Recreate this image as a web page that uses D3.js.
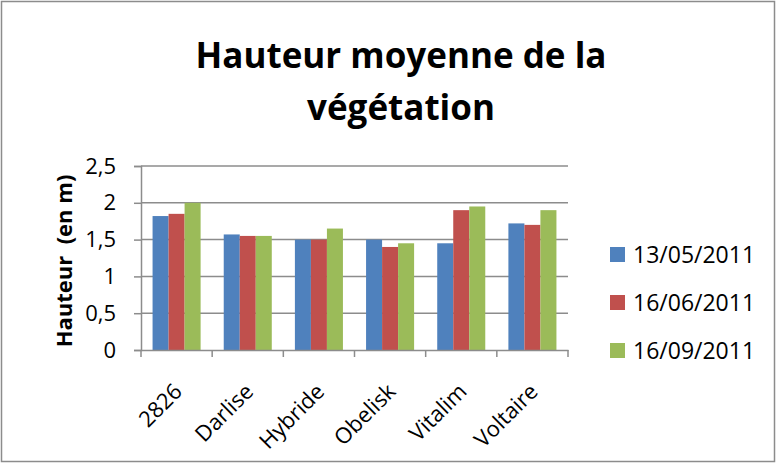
<!DOCTYPE html>
<html>
<head>
<meta charset="utf-8">
<script src="https://cdn.jsdelivr.net/npm/d3@7"></script>
<style>
body{margin:0;background:#fff;}
text{font-family:"Open Sans","Noto Sans",sans-serif;}
</style>
</head>
<body>
<div id="chart"></div>
<script>
// data
var varietes=["2826","Darlise","Hybride","Obelisk","Vitalim","Voltaire"];
var dates=["13/05/2011","16/06/2011","16/09/2011"];
var mai=[1.82,1.57,1.5,1.5,1.45,1.72];
var juin=[1.85,1.55,1.5,1.4,1.9,1.7];
var sept=[2.0,1.55,1.65,1.45,1.95,1.9];
var yTicks=[0,0.5,1,1.5,2,2.5];
var couleurs=["#4f81bd","#c0504d","#9bbb59"];

var svgWidth=776, svgHeight=463;
var margin={top:166,right:208,bottom:113,left:141};
var width=svgWidth-margin.left-margin.right;
var height=svgHeight-margin.top-margin.bottom;

var svg=d3.select("#chart").append("svg")
    .attr("width",svgWidth)
    .attr("height",svgHeight);

// outer border of the chart
svg.append("rect")
    .attr("x",1.5).attr("y",1.5)
    .attr("width",svgWidth-3).attr("height",svgHeight-3)
    .attr("fill","#fff").attr("stroke","#8c8c8c").attr("stroke-width",1.5);

// title
var title=svg.append("text")
    .attr("text-anchor","middle")
    .attr("font-weight","bold")
    .attr("font-size",35)
    .attr("fill","#000");
title.append("tspan").attr("x",401).attr("y",68).text("Hauteur moyenne de la");
title.append("tspan").attr("x",401).attr("y",120).text("végétation");

var chartgroup=svg.append("g")
    .attr("transform",`translate(${margin.left},${margin.top})`);

var series=[mai,juin,sept];

var x0=d3.scaleBand().domain(varietes).range([0,width]).paddingInner(0).paddingOuter(0);
var x1=d3.scaleBand().domain(d3.range(dates.length)).range([0,x0.bandwidth()*0.675])
var groupOffset=(x0.bandwidth()-x0.bandwidth()*0.675)/2;
var y=d3.scaleLinear().domain([0,2.5]).range([height,0]);

// gridlines
chartgroup.append("g")
    .selectAll("line")
    .data(yTicks.slice(1))
    .enter().append("line")
    .attr("x1",0).attr("x2",width)
    .attr("y1",d=>y(d)).attr("y2",d=>y(d))
    .attr("stroke","#8c8c8c").attr("stroke-width",1.5);

// bars
series.forEach(function(vals,i){
    chartgroup.append("g")
        .selectAll("rect")
        .data(vals)
        .enter().append("rect")
        .attr("x",(d,j)=>x0(varietes[j])+groupOffset+x1(i))
        .attr("y",d=>y(d))
        .attr("width",x1.bandwidth())
        .attr("height",d=>height-y(d))
        .attr("fill",couleurs[i]);
});

// y axis
var leftAxis=d3.axisLeft(y).tickValues(yTicks)
    .tickFormat(d=>String(d).replace(".",","))
    .tickSize(7).tickPadding(18);
var yAxis=chartgroup.append("g").call(leftAxis);
yAxis.select(".domain").attr("stroke","#8c8c8c").attr("stroke-width",1.5);
yAxis.selectAll(".tick line").attr("stroke","#8c8c8c").attr("stroke-width",1.5);
yAxis.selectAll(".tick text").attr("font-size",22).attr("fill","#000")
    .attr("font-family","\"Open Sans\",sans-serif");

// x axis
var bottomAxis=d3.axisBottom(x0).tickSize(0).tickFormat("");
var xAxis=chartgroup.append("g")
    .attr("transform",`translate(0,${height})`)
    .call(bottomAxis);
xAxis.select(".domain").attr("stroke","#8c8c8c").attr("stroke-width",1.5);
// category separators
xAxis.selectAll(".sep")
    .data(d3.range(varietes.length+1))
    .enter().append("line")
    .attr("x1",d=>d*x0.bandwidth()).attr("x2",d=>d*x0.bandwidth())
    .attr("y1",0).attr("y2",7)
    .attr("stroke","#8c8c8c").attr("stroke-width",1.5);

// rotated category labels
chartgroup.append("g")
    .selectAll("text")
    .data(varietes)
    .enter().append("text")
    .attr("transform",d=>`translate(${x0(d)+x0.bandwidth()/2-4},${height+32}) rotate(-45)`)
    .attr("text-anchor","end")
    .attr("dy","0.7em")
    .attr("font-size",22)
    .attr("fill","#000")
    .text(d=>d);

// y axis title
svg.append("text")
    .attr("transform","translate(72,261) rotate(-90)")
    .attr("text-anchor","middle")
    .attr("font-weight","bold")
    .attr("font-size",22)
    .attr("fill","#000")
    .attr("xml:space","preserve")
    .text("Hauteur  (en m)");

// legend
var legend=svg.append("g").attr("transform","translate(610,247)");
var items=legend.selectAll("g")
    .data(dates)
    .enter().append("g")
    .attr("transform",(d,i)=>`translate(0,${i*48})`);
items.append("rect")
    .attr("width",15).attr("height",15)
    .attr("fill",(d,i)=>couleurs[i]);
items.append("text")
    .attr("x",23).attr("y",8)
    .attr("dy","0.35em")
    .attr("font-size",23)
    .attr("fill","#000")
    .text(d=>d);
</script>
</body>
</html>
